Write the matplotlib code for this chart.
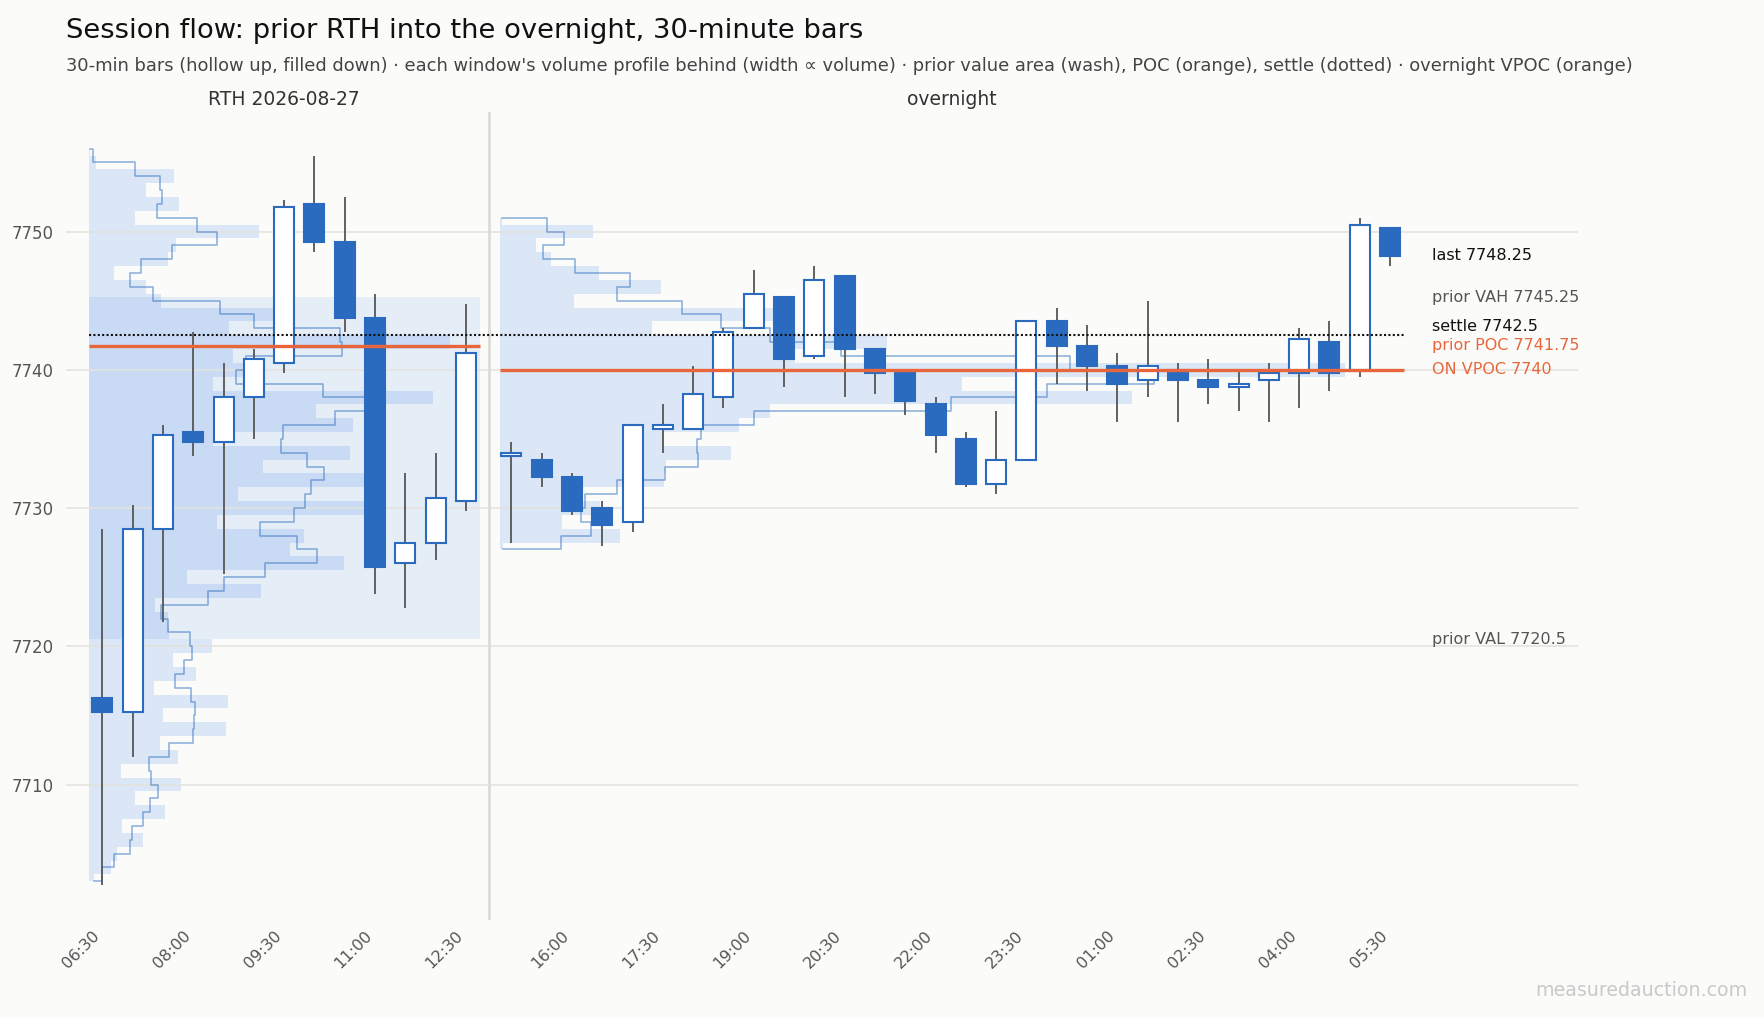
import numpy as np
import matplotlib
matplotlib.use("Agg")
import matplotlib.pyplot as plt
from matplotlib.patches import Rectangle
from matplotlib.transforms import blended_transform_factory

# ---------------- data ----------------
rth_date = "2026-08-27"
rth_times = ["06:30", "07:00", "07:30", "08:00", "08:30", "09:00", "09:30",
             "10:00", "10:30", "11:00", "11:30", "12:00", "12:30"]
rth_open = [7716.25, 7715.25, 7728.5, 7735.5, 7734.75, 7738.0, 7740.5,
            7752.0, 7749.25, 7743.75, 7726.0, 7727.5, 7730.5]
rth_high = [7728.5, 7730.25, 7736.0, 7742.75, 7740.5, 7741.5, 7752.25,
            7755.5, 7752.5, 7745.5, 7732.5, 7734.0, 7744.75]
rth_low = [7702.75, 7712.0, 7721.75, 7733.75, 7725.25, 7735.0, 7739.75,
           7748.5, 7742.75, 7723.75, 7722.75, 7726.25, 7729.75]
rth_close = [7715.25, 7728.5, 7735.25, 7734.75, 7738.0, 7740.75, 7751.75,
             7749.25, 7743.75, 7725.75, 7727.5, 7730.75, 7741.25]

on_times = ["15:00", "15:30", "16:00", "16:30", "17:00", "17:30", "18:00",
            "18:30", "19:00", "19:30", "20:00", "20:30", "21:00", "21:30",
            "22:00", "22:30", "23:00", "23:30", "00:00", "00:30", "01:00",
            "01:30", "02:00", "02:30", "03:00", "03:30", "04:00", "04:30",
            "05:00", "05:30"]
on_open = [7733.75, 7733.5, 7732.25, 7730.0, 7729.0, 7735.75, 7735.75,
           7738.0, 7743.0, 7745.25, 7741.0, 7746.75, 7741.5, 7739.75,
           7737.5, 7735.0, 7731.75, 7733.5, 7743.5, 7741.75, 7740.25,
           7739.25, 7740.0, 7739.25, 7738.75, 7739.25, 7739.75, 7742.0,
           7740.0, 7750.25]
on_high = [7734.75, 7734.0, 7732.5, 7730.5, 7736.0, 7737.5, 7740.25,
           7743.0, 7747.25, 7745.25, 7747.5, 7746.75, 7741.5, 7739.75,
           7738.0, 7735.5, 7737.0, 7743.5, 7744.5, 7743.25, 7741.25,
           7745.0, 7740.5, 7740.75, 7740.0, 7740.5, 7743.0, 7743.5,
           7751.0, 7750.25]
on_low = [7727.5, 7731.5, 7729.5, 7727.25, 7728.25, 7734.0, 7735.75,
          7737.25, 7743.0, 7738.75, 7740.75, 7738.0, 7738.25, 7736.75,
          7734.0, 7731.5, 7731.0, 7733.5, 7739.0, 7738.5, 7736.25,
          7738.0, 7736.25, 7737.5, 7737.0, 7736.25, 7737.25, 7738.5,
          7739.5, 7747.5]
on_close = [7734.0, 7732.25, 7729.75, 7728.75, 7736.0, 7736.0, 7738.25,
            7742.75, 7745.5, 7740.75, 7746.5, 7741.5, 7739.75, 7737.75,
            7735.25, 7731.75, 7733.5, 7743.5, 7741.75, 7740.25, 7739.0,
            7740.25, 7739.25, 7738.75, 7739.0, 7739.75, 7742.25, 7739.75,
            7750.5, 7748.25]

# volume profiles (relative volume per 1-point price bucket)
rth_prof_levels = [7756, 7755, 7754, 7753, 7752, 7751, 7750, 7749, 7748,
                   7747, 7746, 7745, 7744, 7743, 7742, 7741, 7740, 7739,
                   7738, 7737, 7736, 7735, 7734, 7733, 7732, 7731, 7730,
                   7729, 7728, 7727, 7726, 7725, 7724, 7723, 7722, 7721,
                   7720, 7719, 7718, 7717, 7716, 7715, 7714, 7713, 7712,
                   7711, 7710, 7709, 7708, 7707, 7706, 7705, 7704, 7703]
rth_prof_vol = [1, 7, 85, 57, 90, 46, 170, 87, 79,
                25, 57, 72, 191, 140, 361, 144, 171, 124,
                344, 227, 264, 124, 261, 174, 295, 149, 282,
                128, 215, 201, 255, 98, 172, 66, 79, 80,
                123, 84, 107, 65, 139, 74, 137, 71, 89,
                32, 92, 46, 76, 33, 54, 28, 22, 5]

on_prof_levels = [7751, 7750, 7749, 7748, 7747, 7746, 7745, 7744, 7743,
                  7742, 7741, 7740, 7739, 7738, 7737, 7736, 7735, 7734,
                  7733, 7732, 7731, 7730, 7729, 7728, 7727]
on_prof_vol = [2, 93, 36, 51, 99, 161, 74, 290, 152,
               388, 295, 846, 463, 633, 270, 239, 164, 231,
               166, 164, 71, 100, 62, 120, 3]

prior_vah = 7745.25
prior_val = 7720.5
prior_poc = 7741.75
settle = 7742.5
on_vpoc = 7740.0
last_price = on_close[-1]

# ---------------- style ----------------
BG = "#fbfbf9"
BLUE = "#2a6bbf"
ORANGE = "#e8663c"
WICK = "#555555"
PROF = "#dbe7f6"
GRID = "#e3e3df"

plt.rcParams["font.family"] = ["DejaVu Sans"]

fig = plt.figure(figsize=(17.64, 10.17), dpi=100, facecolor=BG)
ax = fig.add_axes([0.0374, 0.0954, 0.8571, 0.7945])
ax.set_facecolor(BG)

rth_x = np.arange(len(rth_times), dtype=float)
on_x = rth_x[-1] + 1.5 + np.arange(len(on_times), dtype=float)
pad = 0.45
rth_lo, rth_hi = rth_x[0] - pad, rth_x[-1] + pad
on_lo, on_hi = on_x[0] - 0.38, on_x[-1] + pad
divider = (rth_x[-1] + on_x[0]) / 2.0


def draw_profile(levels, vols, x0, x1, frac):
    lv = np.asarray(levels, float)
    vv = np.asarray(vols, float)
    order = np.argsort(lv)
    lv, vv = lv[order], vv[order]
    w = vv / vv.max() * frac * (x1 - x0)
    ax.fill_betweenx(lv, x0, x0 + w, step="mid", color=PROF, lw=0, zorder=0.2)
    ax.plot(x0 + w, lv, drawstyle="steps-mid", color=BLUE, alpha=0.55,
            lw=1.1, zorder=1.2)


draw_profile(rth_prof_levels, rth_prof_vol, rth_lo, rth_hi, 0.925)
draw_profile(on_prof_levels, on_prof_vol, on_lo, on_hi, 0.935)

# prior value area wash
ax.add_patch(Rectangle((rth_lo, prior_val), rth_hi - rth_lo, prior_vah - prior_val,
                       facecolor="#4a8ceb", alpha=0.12, lw=0, zorder=0.3))


def draw_candles(xs, o, h, l, c):
    bw = 0.66
    for x, oo, hh, ll, cc in zip(xs, o, h, l, c):
        ax.vlines(x, ll, hh, color=WICK, lw=1.3, zorder=3)
        lo_b, hi_b = min(oo, cc), max(oo, cc)
        up = cc >= oo
        ax.add_patch(Rectangle((x - bw / 2, lo_b), bw, hi_b - lo_b,
                               facecolor="white" if up else BLUE,
                               edgecolor=BLUE, lw=1.5, zorder=4))


draw_candles(rth_x, rth_open, rth_high, rth_low, rth_close)
draw_candles(on_x, on_open, on_high, on_low, on_close)

# reference lines
ax.hlines(settle, rth_lo, on_hi, colors="#111111", linestyles=(0, (1, 1.1)),
          lw=1.5, zorder=6)
ax.hlines(prior_poc, rth_lo, rth_hi, colors=ORANGE, lw=2.4, zorder=6)
ax.hlines(on_vpoc, on_lo, on_hi, colors=ORANGE, lw=2.4, zorder=6)
ax.axvline(divider, color="#dcdcd6", lw=2, zorder=0.6)

# right-hand labels with simple collision avoidance
labels = [
    (last_price, f"last {last_price:g}", "#111111"),
    (prior_vah, f"prior VAH {prior_vah:g}", "#555555"),
    (settle, f"settle {settle:g}", "#111111"),
    (prior_poc, f"prior POC {prior_poc:g}", ORANGE),
    (on_vpoc, f"ON VPOC {on_vpoc:g}", ORANGE),
    (prior_val, f"prior VAL {prior_val:g}", "#555555"),
]
labels.sort(key=lambda t: t[0])
min_gap = 1.4
placed = []
for val, txt, col in labels:
    y = val
    if placed and y - placed[-1] < min_gap:
        y = placed[-1] + min_gap
    placed.append(y)
    ax.text(on_hi + 0.95, y, txt, color=col, fontsize=11.5, va="center",
            ha="left", zorder=7)

# axes cosmetics
ax.set_xlim(-1.2, 48.7)
ax.set_ylim(7700.2, 7758.65)
for s in ax.spines.values():
    s.set_visible(False)
ax.set_axisbelow(True)
ax.yaxis.grid(True, color=GRID, lw=1.2)
ax.set_yticks([7710, 7720, 7730, 7740, 7750])
all_x = np.concatenate([rth_x, on_x])
all_t = rth_times + on_times
ax.set_xticks(all_x[::3])
ax.set_xticklabels(all_t[::3], rotation=45, ha="right")
ax.tick_params(axis="both", length=0, colors="#555555")
ax.tick_params(axis="y", pad=9, labelsize=12)
ax.tick_params(axis="x", pad=6, labelsize=11.5)

# section labels
tr = blended_transform_factory(ax.transData, ax.transAxes)
ax.text((rth_lo + rth_hi) / 2, 1.0092, f"RTH {rth_date}", transform=tr,
        ha="center", va="baseline", fontsize=13.5, color="#333333")
ax.text((on_lo + on_hi) / 2, 1.0092, "overnight", transform=tr,
        ha="center", va="baseline", fontsize=13.5, color="#333333")

# titles
fig.text(0.0374, 0.9626, "Session flow: prior RTH into the overnight, 30-minute bars",
         fontsize=19.7, color="#111111", va="baseline", ha="left")
fig.text(0.0374, 0.9303,
         "30-min bars (hollow up, filled down) \u00b7 each window's volume profile behind "
         "(width \u221d volume) \u00b7 prior value area (wash), POC (orange), settle (dotted) "
         "\u00b7 overnight VPOC (orange)",
         fontsize=12.85, color="#444444", va="baseline", ha="left")
fig.text(0.9904, 0.0256, "measuredauction.com", fontsize=13.7, color="#c9c9c9",
         ha="right", va="center")

fig.savefig("out.png", dpi=100, facecolor=BG)
